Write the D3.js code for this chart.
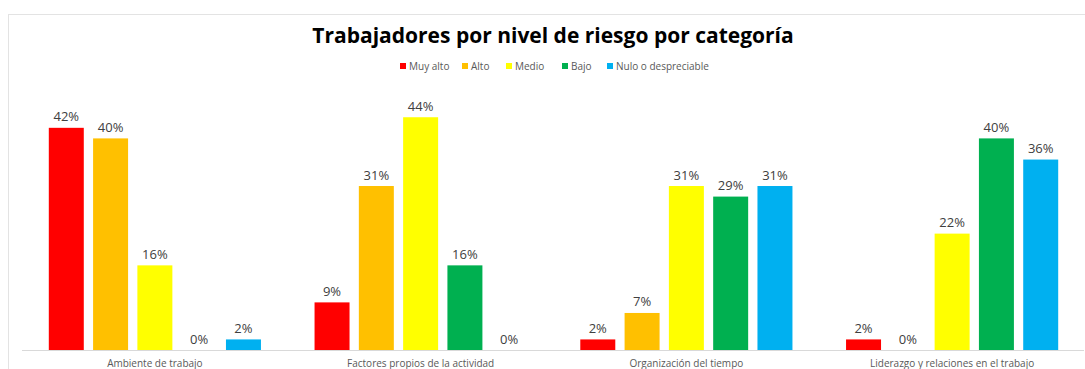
<!DOCTYPE html>
<html>
<head>
<meta charset="utf-8">
<script src="https://cdn.jsdelivr.net/npm/d3@7"></script>
<style>
  html, body { margin: 0; padding: 0; background: #fff; }
  svg { display: block; }
</style>
</head>
<body>
<svg id="chart" width="1085" height="369"></svg>
<script>
// Categories and risk levels
const categories = [
  "Ambiente de trabajo",
  "Factores propios de la actividad",
  "Organización del tiempo",
  "Liderazgo y relaciones en el trabajo"
];
const levels = ["Muy alto", "Alto", "Medio", "Bajo", "Nulo o despreciable"];
const levelColors = ["#FF0000", "#FFC000", "#FFFF00", "#00B050", "#00B0F0"];

// Percentage of workers per level, one array per risk level (in category order)
const muyAlto = [42, 9, 2, 2];
const alto    = [40, 31, 7, 0];
const medio   = [16, 44, 31, 22];
const bajo    = [0, 16, 29, 40];
const nulo    = [2, 0, 31, 36];
const seriesValues = [muyAlto, alto, medio, bajo, nulo];

const chartTitle = "Trabajadores por nivel de riesgo por categoría";
const fontFamily = "'Open Sans', 'Noto Sans', sans-serif";

const svg = d3.select("#chart");
const W = 1085, H = 369;

// Outer chart frame
svg.append("rect")
  .attr("x", 8.5).attr("y", 14.5)
  .attr("width", W + 10).attr("height", H + 10)
  .attr("fill", "#fff")
  .attr("stroke", "#e3e3e3")
  .attr("stroke-width", 1);

const plot = { left: 22, right: 1085, top: 85.5, bottom: 350 };

const x0 = d3.scaleBand()
  .domain(categories)
  .range([plot.left, plot.right])
  .paddingInner(0).paddingOuter(0);

const x1 = d3.scaleBand()
  .domain(levels)
  .range([0, x0.bandwidth()])
  .paddingInner(0.21)
  .paddingOuter(0.605);

const y = d3.scaleLinear().domain([0, 50]).range([plot.bottom, plot.top]);

// Flatten into records for drawing
const records = [];
levels.forEach((lvl, li) => {
  categories.forEach((cat, ci) => {
    records.push({ cat, lvl, value: seriesValues[li][ci], color: levelColors[li] });
  });
});

// Bars
svg.append("g").selectAll("rect")
  .data(records)
  .join("rect")
  .attr("x", d => x0(d.cat) + x1(d.lvl))
  .attr("y", d => y(d.value))
  .attr("width", x1.bandwidth())
  .attr("height", d => y(0) - y(d.value))
  .attr("fill", d => d.color);

// Category axis (baseline + labels, no ticks)
const xAxis = d3.axisBottom(x0).tickSize(0).tickPadding(0);
const axisG = svg.append("g")
  .attr("transform", `translate(0,${plot.bottom})`)
  .call(xAxis);
axisG.select(".domain")
  .attr("stroke", "#d9d9d9")
  .attr("d", `M${plot.left},0.5H${plot.right - 1}`);
axisG.selectAll("text")
  .attr("dy", null)
  .attr("y", 17)
  .attr("fill", "#595959")
  .style("font-family", fontFamily)
  .style("font-size", "10px");

// Value labels
svg.append("g").selectAll("text")
  .data(records)
  .join("text")
  .attr("x", d => x0(d.cat) + x1(d.lvl) + x1.bandwidth() / 2)
  .attr("y", d => y(d.value) - 6.5)
  .attr("text-anchor", "middle")
  .attr("fill", "#404040")
  .style("font-family", fontFamily)
  .style("font-size", "13px")
  .text(d => d3.format(".0f")(d.value) + "%");

// Title
svg.append("text")
  .attr("x", 553)
  .attr("y", 43)
  .attr("text-anchor", "middle")
  .attr("fill", "#000")
  .style("font-family", fontFamily)
  .style("font-size", "21px")
  .style("font-weight", "bold")
  .text(chartTitle);

// Legend
const legendX = [400, 462, 506, 562, 607];
const legend = svg.append("g");
levels.forEach((lvl, i) => {
  const g = legend.append("g").attr("transform", `translate(${legendX[i]},63)`);
  g.append("rect").attr("width", 6).attr("height", 6).attr("fill", levelColors[i]);
  g.append("text")
    .attr("x", 9).attr("y", 6.5)
    .attr("fill", "#595959")
    .style("font-family", fontFamily)
    .style("font-size", "10px")
    .text(lvl);
});
</script>
</body>
</html>
